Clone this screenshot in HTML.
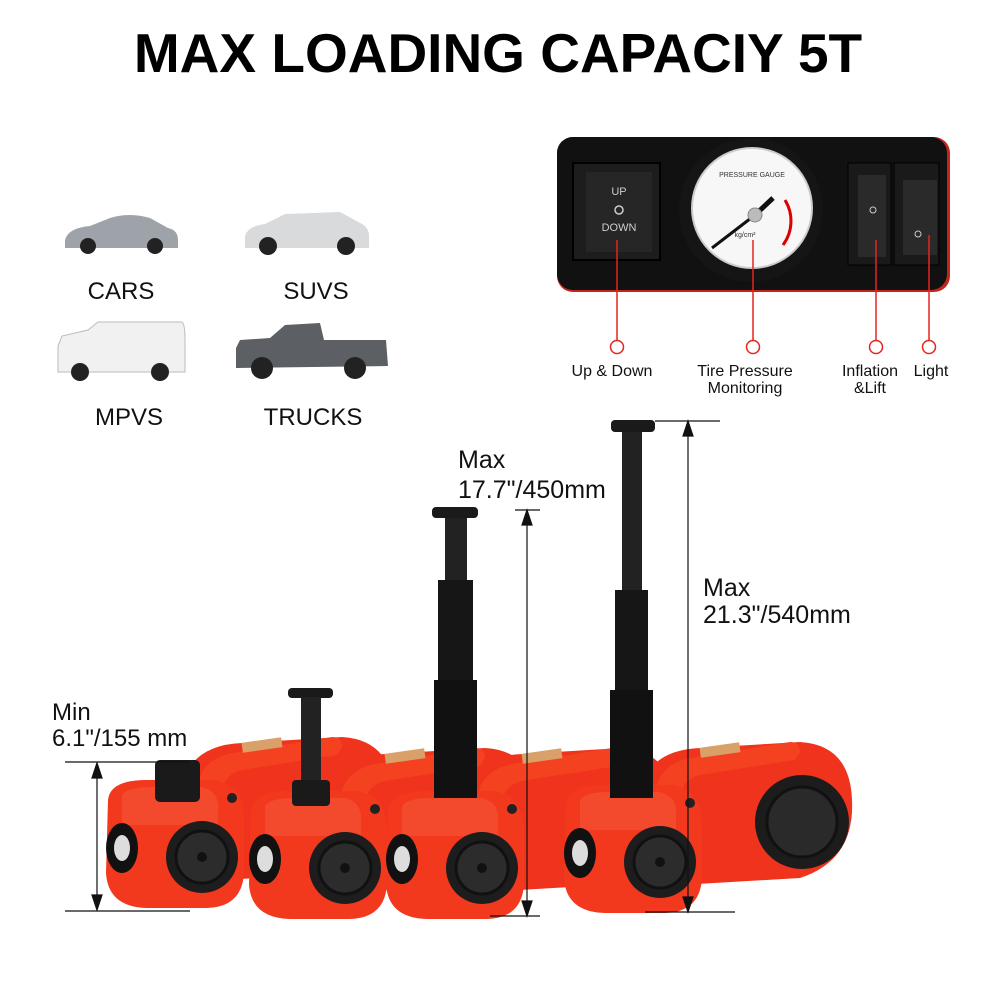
<!DOCTYPE html>
<html><head><style>
html,body{margin:0;padding:0;background:#fff;width:1000px;height:1000px;overflow:hidden}
svg{display:block}
text{font-family:"Liberation Sans",sans-serif}
</style></head><body>
<svg width="1000" height="1000" viewBox="0 0 1000 1000">
<defs>
<g id="jack">
 <path d="M640 790 Q650 750 700 748 L800 742 Q850 745 852 800 Q855 860 800 878 L680 885 Z" fill="#f0331c"/>
 <path d="M655 800 Q655 765 690 758 L790 742 Q800 742 800 752 L795 760 L700 775 Q680 780 680 800 Z" fill="#f4411f"/>
 <rect x="700" y="745" width="40" height="10" fill="#d9a06a" transform="rotate(-8 720 750)"/>
 <path d="M566 805 Q568 785 605 785 L672 785 Q702 790 702 825 L702 878 Q700 912 665 913 L605 913 Q566 912 564 878 Z" fill="#f2391e"/>
 <path d="M580 800 Q585 792 610 792 L660 792 Q675 796 676 810 L676 830 L580 830 Z" fill="#f76a4a" opacity="0.35"/>
 <circle cx="660" cy="862" r="36" fill="#1d1d1d"/>
 <circle cx="660" cy="862" r="26" fill="#2c2c2c" stroke="#111" stroke-width="3"/>
 <circle cx="660" cy="862" r="5" fill="#111"/>
 <ellipse cx="580" cy="853" rx="16" ry="25" fill="#111"/>
 <ellipse cx="580" cy="853" rx="8" ry="13" fill="#ddd"/>
 <circle cx="690" cy="803" r="5" fill="#222"/>
</g>
</defs>

<text x="498" y="72" text-anchor="middle" font-size="55" font-weight="bold" fill="#000">MAX LOADING CAPACIY 5T</text>

<g>
 <path d="M65 240 Q68 228 90 226 L110 218 Q130 212 150 218 L168 228 Q178 230 178 240 L178 248 L65 248 Z" fill="#9ea3a9"/>
 <circle cx="88" cy="246" r="8" fill="#222"/><circle cx="155" cy="246" r="8" fill="#222"/>
 <path d="M245 236 Q248 226 265 224 L285 214 L340 212 L362 224 Q370 228 369 240 L369 248 L245 248 Z" fill="#d8dadc"/>
 <circle cx="268" cy="246" r="9" fill="#222"/><circle cx="346" cy="246" r="9" fill="#222"/>
 <path d="M58 346 L62 336 L88 330 L98 322 L182 322 Q185 324 185 340 L185 372 L58 372 Z" fill="#f1f1f1" stroke="#bbb"/>
 <circle cx="80" cy="372" r="9" fill="#222"/><circle cx="160" cy="372" r="9" fill="#222"/>
 <path d="M236 348 L240 340 L270 338 L285 325 L320 323 L324 340 L386 340 L388 366 L236 368 Z" fill="#5c5f63"/>
 <circle cx="262" cy="368" r="11" fill="#222"/><circle cx="355" cy="368" r="11" fill="#222"/>
</g>
<g font-size="24" fill="#111" text-anchor="middle">
 <text x="121" y="299">CARS</text>
 <text x="316" y="299">SUVS</text>
 <text x="129" y="425">MPVS</text>
 <text x="313" y="425">TRUCKS</text>
</g>

<rect x="557" y="137" width="393" height="155" rx="16" fill="#c2251c"/>
<rect x="557" y="137" width="390" height="153" rx="16" fill="#111"/>
<rect x="573" y="163" width="87" height="97" fill="#1d1d1d" stroke="#000" stroke-width="2"/>
<rect x="586" y="172" width="66" height="80" fill="#262626"/>
<text x="619" y="195" text-anchor="middle" font-size="11" fill="#ccc">UP</text>
<circle cx="619" cy="210" r="4" fill="none" stroke="#ccc" stroke-width="1.5"/>
<text x="619" y="231" text-anchor="middle" font-size="11" fill="#ccc">DOWN</text>
<circle cx="751" cy="210" r="72" fill="#151515"/>
<circle cx="752" cy="208" r="60" fill="#f7f7f7" stroke="#ccc" stroke-width="2"/>
<path d="M785 200 A40 40 0 0 1 783 245" fill="none" stroke="#d00" stroke-width="3"/>
<line x1="755" y1="215" x2="712" y2="248" stroke="#111" stroke-width="3"/>
<line x1="755" y1="215" x2="773" y2="198" stroke="#111" stroke-width="5"/>
<circle cx="755" cy="215" r="7" fill="#bbb" stroke="#888"/>
<text x="752" y="177" text-anchor="middle" font-size="7" fill="#333">PRESSURE GAUGE</text>
<text x="745" y="237" text-anchor="middle" font-size="7" fill="#333">kg/cm²</text>
<rect x="848" y="163" width="43" height="102" fill="#1a1a1a" stroke="#000"/>
<rect x="858" y="175" width="28" height="82" fill="#2a2a2a"/>
<circle cx="873" cy="210" r="3" fill="none" stroke="#ccc"/>
<rect x="894" y="163" width="45" height="102" fill="#1a1a1a" stroke="#000"/>
<rect x="903" y="180" width="34" height="75" fill="#2a2a2a"/>
<circle cx="918" cy="234" r="3" fill="none" stroke="#ccc"/>

<g stroke="#e52420" stroke-width="1.5" fill="#fff">
 <line x1="617" y1="240" x2="617" y2="340"/><circle cx="617" cy="347" r="6.5"/>
 <line x1="753" y1="240" x2="753" y2="340"/><circle cx="753" cy="347" r="6.5"/>
 <line x1="876" y1="240" x2="876" y2="340"/><circle cx="876" cy="347" r="6.5"/>
 <line x1="929" y1="235" x2="929" y2="340"/><circle cx="929" cy="347" r="6.5"/>
</g>
<g font-size="16" fill="#111" text-anchor="middle">
 <text x="612" y="376">Up &amp; Down</text>
 <text x="745" y="376">Tire Pressure</text>
 <text x="745" y="393">Monitoring</text>
 <text x="870" y="376">Inflation</text>
 <text x="870" y="393">&amp;Lift</text>
 <text x="931" y="376">Light</text>
</g>

<use href="#jack" transform="translate(-458,-5)"/>
<rect x="155" y="760" width="45" height="42" rx="5" fill="#1a1a1a"/>
<use href="#jack" transform="translate(-315,6)"/>
<rect x="288" y="688" width="45" height="10" rx="4" fill="#1a1a1a"/>
<rect x="301" y="697" width="20" height="85" fill="#222"/>
<rect x="292" y="780" width="38" height="26" rx="4" fill="#1a1a1a"/>
<use href="#jack" transform="translate(-178,6)"/>
<rect x="432" y="507" width="46" height="11" rx="4" fill="#1a1a1a"/>
<rect x="445" y="518" width="22" height="62" fill="#222"/>
<rect x="438" y="580" width="35" height="100" fill="#161616"/>
<rect x="434" y="680" width="43" height="118" fill="#111"/>
<use href="#jack"/>
<circle cx="802" cy="822" r="47" fill="#1c1c1c"/>
<circle cx="802" cy="822" r="35" fill="#2a2a2a" stroke="#111" stroke-width="3"/>
<rect x="611" y="420" width="44" height="12" rx="4" fill="#1a1a1a"/>
<rect x="622" y="432" width="20" height="158" fill="#222"/>
<rect x="615" y="590" width="33" height="100" fill="#161616"/>
<rect x="610" y="690" width="43" height="108" fill="#111"/>

<g stroke="#111" stroke-width="1.2" fill="#111">
 <line x1="65" y1="762" x2="190" y2="762"/><line x1="65" y1="911" x2="190" y2="911"/>
 <line x1="97" y1="765" x2="97" y2="908"/>
 <path d="M97 763 L92 778 L102 778 Z"/><path d="M97 910 L92 895 L102 895 Z"/>
 <line x1="515" y1="510" x2="540" y2="510"/><line x1="490" y1="916" x2="540" y2="916"/>
 <line x1="527" y1="512" x2="527" y2="914"/>
 <path d="M527 510 L522 525 L532 525 Z"/><path d="M527 916 L522 901 L532 901 Z"/>
 <line x1="655" y1="421" x2="720" y2="421"/><line x1="645" y1="912" x2="735" y2="912"/>
 <line x1="688" y1="423" x2="688" y2="910"/>
 <path d="M688 421 L683 436 L693 436 Z"/><path d="M688 912 L683 897 L693 897 Z"/>
</g>
<g font-size="24" fill="#111">
 <text x="52" y="720">Min</text>
 <text x="52" y="746">6.1"/155 mm</text>
</g>
<g font-size="25" fill="#111">
 <text x="458" y="468">Max</text>
 <text x="458" y="498">17.7"/450mm</text>
 <text x="703" y="596">Max</text>
 <text x="703" y="623">21.3"/540mm</text>
</g>
</svg>
</body></html>
